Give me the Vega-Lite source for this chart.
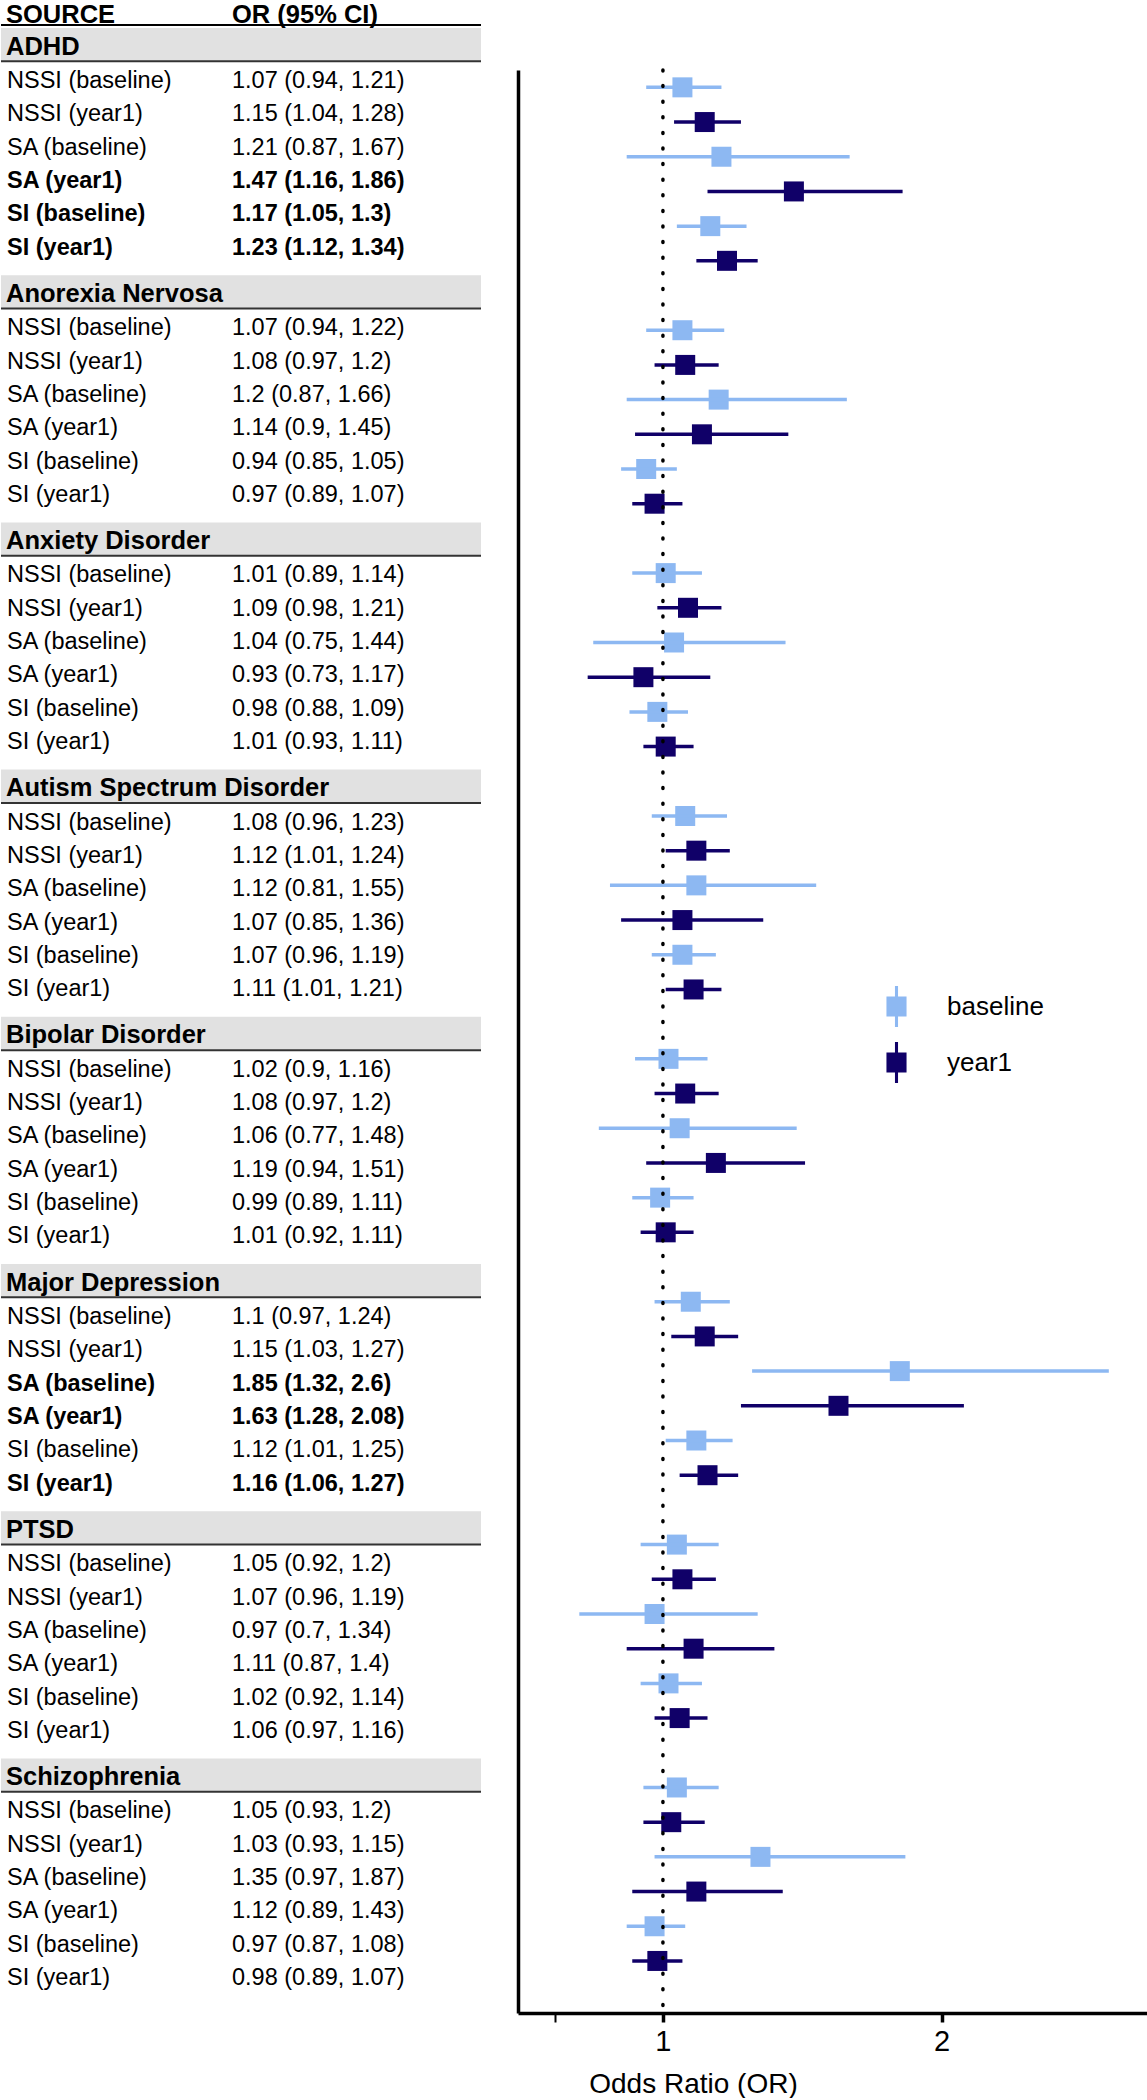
{
  "$schema": "https://vega.github.io/schema/vega-lite/v6.json",
  "padding": 0,
  "autosize": {"type": "pad"},
  "background": "white",
  "config": {"font": "Liberation Sans", "view": {"stroke": null}, "text": {"color": "black"}},
  "datasets": {
    "rows": [
      {"group": "ADHD", "slot": "NSSI (baseline)", "ci": "1.07 (0.94, 1.21)", "bold": false, "or": 1.07, "lo": 0.94, "hi": 1.21, "wave": "baseline", "key": "ADHD|NSSI (baseline)"},
      {"group": "ADHD", "slot": "NSSI (year1)", "ci": "1.15 (1.04, 1.28)", "bold": false, "or": 1.15, "lo": 1.04, "hi": 1.28, "wave": "year1", "key": "ADHD|NSSI (year1)"},
      {"group": "ADHD", "slot": "SA (baseline)", "ci": "1.21 (0.87, 1.67)", "bold": false, "or": 1.21, "lo": 0.87, "hi": 1.67, "wave": "baseline", "key": "ADHD|SA (baseline)"},
      {"group": "ADHD", "slot": "SA (year1)", "ci": "1.47 (1.16, 1.86)", "bold": true, "or": 1.47, "lo": 1.16, "hi": 1.86, "wave": "year1", "key": "ADHD|SA (year1)"},
      {"group": "ADHD", "slot": "SI (baseline)", "ci": "1.17 (1.05, 1.3)", "bold": true, "or": 1.17, "lo": 1.05, "hi": 1.3, "wave": "baseline", "key": "ADHD|SI (baseline)"},
      {"group": "ADHD", "slot": "SI (year1)", "ci": "1.23 (1.12, 1.34)", "bold": true, "or": 1.23, "lo": 1.12, "hi": 1.34, "wave": "year1", "key": "ADHD|SI (year1)"},

      {"group": "Anorexia Nervosa", "slot": "NSSI (baseline)", "ci": "1.07 (0.94, 1.22)", "bold": false, "or": 1.07, "lo": 0.94, "hi": 1.22, "wave": "baseline", "key": "AN|NSSI (baseline)"},
      {"group": "Anorexia Nervosa", "slot": "NSSI (year1)", "ci": "1.08 (0.97, 1.2)", "bold": false, "or": 1.08, "lo": 0.97, "hi": 1.2, "wave": "year1", "key": "AN|NSSI (year1)"},
      {"group": "Anorexia Nervosa", "slot": "SA (baseline)", "ci": "1.2 (0.87, 1.66)", "bold": false, "or": 1.2, "lo": 0.87, "hi": 1.66, "wave": "baseline", "key": "AN|SA (baseline)"},
      {"group": "Anorexia Nervosa", "slot": "SA (year1)", "ci": "1.14 (0.9, 1.45)", "bold": false, "or": 1.14, "lo": 0.9, "hi": 1.45, "wave": "year1", "key": "AN|SA (year1)"},
      {"group": "Anorexia Nervosa", "slot": "SI (baseline)", "ci": "0.94 (0.85, 1.05)", "bold": false, "or": 0.94, "lo": 0.85, "hi": 1.05, "wave": "baseline", "key": "AN|SI (baseline)"},
      {"group": "Anorexia Nervosa", "slot": "SI (year1)", "ci": "0.97 (0.89, 1.07)", "bold": false, "or": 0.97, "lo": 0.89, "hi": 1.07, "wave": "year1", "key": "AN|SI (year1)"},

      {"group": "Anxiety Disorder", "slot": "NSSI (baseline)", "ci": "1.01 (0.89, 1.14)", "bold": false, "or": 1.01, "lo": 0.89, "hi": 1.14, "wave": "baseline", "key": "AX|NSSI (baseline)"},
      {"group": "Anxiety Disorder", "slot": "NSSI (year1)", "ci": "1.09 (0.98, 1.21)", "bold": false, "or": 1.09, "lo": 0.98, "hi": 1.21, "wave": "year1", "key": "AX|NSSI (year1)"},
      {"group": "Anxiety Disorder", "slot": "SA (baseline)", "ci": "1.04 (0.75, 1.44)", "bold": false, "or": 1.04, "lo": 0.75, "hi": 1.44, "wave": "baseline", "key": "AX|SA (baseline)"},
      {"group": "Anxiety Disorder", "slot": "SA (year1)", "ci": "0.93 (0.73, 1.17)", "bold": false, "or": 0.93, "lo": 0.73, "hi": 1.17, "wave": "year1", "key": "AX|SA (year1)"},
      {"group": "Anxiety Disorder", "slot": "SI (baseline)", "ci": "0.98 (0.88, 1.09)", "bold": false, "or": 0.98, "lo": 0.88, "hi": 1.09, "wave": "baseline", "key": "AX|SI (baseline)"},
      {"group": "Anxiety Disorder", "slot": "SI (year1)", "ci": "1.01 (0.93, 1.11)", "bold": false, "or": 1.01, "lo": 0.93, "hi": 1.11, "wave": "year1", "key": "AX|SI (year1)"},

      {"group": "Autism Spectrum Disorder", "slot": "NSSI (baseline)", "ci": "1.08 (0.96, 1.23)", "bold": false, "or": 1.08, "lo": 0.96, "hi": 1.23, "wave": "baseline", "key": "AU|NSSI (baseline)"},
      {"group": "Autism Spectrum Disorder", "slot": "NSSI (year1)", "ci": "1.12 (1.01, 1.24)", "bold": false, "or": 1.12, "lo": 1.01, "hi": 1.24, "wave": "year1", "key": "AU|NSSI (year1)"},
      {"group": "Autism Spectrum Disorder", "slot": "SA (baseline)", "ci": "1.12 (0.81, 1.55)", "bold": false, "or": 1.12, "lo": 0.81, "hi": 1.55, "wave": "baseline", "key": "AU|SA (baseline)"},
      {"group": "Autism Spectrum Disorder", "slot": "SA (year1)", "ci": "1.07 (0.85, 1.36)", "bold": false, "or": 1.07, "lo": 0.85, "hi": 1.36, "wave": "year1", "key": "AU|SA (year1)"},
      {"group": "Autism Spectrum Disorder", "slot": "SI (baseline)", "ci": "1.07 (0.96, 1.19)", "bold": false, "or": 1.07, "lo": 0.96, "hi": 1.19, "wave": "baseline", "key": "AU|SI (baseline)"},
      {"group": "Autism Spectrum Disorder", "slot": "SI (year1)", "ci": "1.11 (1.01, 1.21)", "bold": false, "or": 1.11, "lo": 1.01, "hi": 1.21, "wave": "year1", "key": "AU|SI (year1)"},

      {"group": "Bipolar Disorder", "slot": "NSSI (baseline)", "ci": "1.02 (0.9, 1.16)", "bold": false, "or": 1.02, "lo": 0.9, "hi": 1.16, "wave": "baseline", "key": "BP|NSSI (baseline)"},
      {"group": "Bipolar Disorder", "slot": "NSSI (year1)", "ci": "1.08 (0.97, 1.2)", "bold": false, "or": 1.08, "lo": 0.97, "hi": 1.2, "wave": "year1", "key": "BP|NSSI (year1)"},
      {"group": "Bipolar Disorder", "slot": "SA (baseline)", "ci": "1.06 (0.77, 1.48)", "bold": false, "or": 1.06, "lo": 0.77, "hi": 1.48, "wave": "baseline", "key": "BP|SA (baseline)"},
      {"group": "Bipolar Disorder", "slot": "SA (year1)", "ci": "1.19 (0.94, 1.51)", "bold": false, "or": 1.19, "lo": 0.94, "hi": 1.51, "wave": "year1", "key": "BP|SA (year1)"},
      {"group": "Bipolar Disorder", "slot": "SI (baseline)", "ci": "0.99 (0.89, 1.11)", "bold": false, "or": 0.99, "lo": 0.89, "hi": 1.11, "wave": "baseline", "key": "BP|SI (baseline)"},
      {"group": "Bipolar Disorder", "slot": "SI (year1)", "ci": "1.01 (0.92, 1.11)", "bold": false, "or": 1.01, "lo": 0.92, "hi": 1.11, "wave": "year1", "key": "BP|SI (year1)"},

      {"group": "Major Depression", "slot": "NSSI (baseline)", "ci": "1.1 (0.97, 1.24)", "bold": false, "or": 1.1, "lo": 0.97, "hi": 1.24, "wave": "baseline", "key": "MD|NSSI (baseline)"},
      {"group": "Major Depression", "slot": "NSSI (year1)", "ci": "1.15 (1.03, 1.27)", "bold": false, "or": 1.15, "lo": 1.03, "hi": 1.27, "wave": "year1", "key": "MD|NSSI (year1)"},
      {"group": "Major Depression", "slot": "SA (baseline)", "ci": "1.85 (1.32, 2.6)", "bold": true, "or": 1.85, "lo": 1.32, "hi": 2.6, "wave": "baseline", "key": "MD|SA (baseline)"},
      {"group": "Major Depression", "slot": "SA (year1)", "ci": "1.63 (1.28, 2.08)", "bold": true, "or": 1.63, "lo": 1.28, "hi": 2.08, "wave": "year1", "key": "MD|SA (year1)"},
      {"group": "Major Depression", "slot": "SI (baseline)", "ci": "1.12 (1.01, 1.25)", "bold": false, "or": 1.12, "lo": 1.01, "hi": 1.25, "wave": "baseline", "key": "MD|SI (baseline)"},
      {"group": "Major Depression", "slot": "SI (year1)", "ci": "1.16 (1.06, 1.27)", "bold": true, "or": 1.16, "lo": 1.06, "hi": 1.27, "wave": "year1", "key": "MD|SI (year1)"},

      {"group": "PTSD", "slot": "NSSI (baseline)", "ci": "1.05 (0.92, 1.2)", "bold": false, "or": 1.05, "lo": 0.92, "hi": 1.2, "wave": "baseline", "key": "PT|NSSI (baseline)"},
      {"group": "PTSD", "slot": "NSSI (year1)", "ci": "1.07 (0.96, 1.19)", "bold": false, "or": 1.07, "lo": 0.96, "hi": 1.19, "wave": "year1", "key": "PT|NSSI (year1)"},
      {"group": "PTSD", "slot": "SA (baseline)", "ci": "0.97 (0.7, 1.34)", "bold": false, "or": 0.97, "lo": 0.7, "hi": 1.34, "wave": "baseline", "key": "PT|SA (baseline)"},
      {"group": "PTSD", "slot": "SA (year1)", "ci": "1.11 (0.87, 1.4)", "bold": false, "or": 1.11, "lo": 0.87, "hi": 1.4, "wave": "year1", "key": "PT|SA (year1)"},
      {"group": "PTSD", "slot": "SI (baseline)", "ci": "1.02 (0.92, 1.14)", "bold": false, "or": 1.02, "lo": 0.92, "hi": 1.14, "wave": "baseline", "key": "PT|SI (baseline)"},
      {"group": "PTSD", "slot": "SI (year1)", "ci": "1.06 (0.97, 1.16)", "bold": false, "or": 1.06, "lo": 0.97, "hi": 1.16, "wave": "year1", "key": "PT|SI (year1)"},

      {"group": "Schizophrenia", "slot": "NSSI (baseline)", "ci": "1.05 (0.93, 1.2)", "bold": false, "or": 1.05, "lo": 0.93, "hi": 1.2, "wave": "baseline", "key": "SZ|NSSI (baseline)"},
      {"group": "Schizophrenia", "slot": "NSSI (year1)", "ci": "1.03 (0.93, 1.15)", "bold": false, "or": 1.03, "lo": 0.93, "hi": 1.15, "wave": "year1", "key": "SZ|NSSI (year1)"},
      {"group": "Schizophrenia", "slot": "SA (baseline)", "ci": "1.35 (0.97, 1.87)", "bold": false, "or": 1.35, "lo": 0.97, "hi": 1.87, "wave": "baseline", "key": "SZ|SA (baseline)"},
      {"group": "Schizophrenia", "slot": "SA (year1)", "ci": "1.12 (0.89, 1.43)", "bold": false, "or": 1.12, "lo": 0.89, "hi": 1.43, "wave": "year1", "key": "SZ|SA (year1)"},
      {"group": "Schizophrenia", "slot": "SI (baseline)", "ci": "0.97 (0.87, 1.08)", "bold": false, "or": 0.97, "lo": 0.87, "hi": 1.08, "wave": "baseline", "key": "SZ|SI (baseline)"},
      {"group": "Schizophrenia", "slot": "SI (year1)", "ci": "0.98 (0.89, 1.07)", "bold": false, "or": 0.98, "lo": 0.89, "hi": 1.07, "wave": "year1", "key": "SZ|SI (year1)"}
    ]
  },
  "spacing": 36,
  "hconcat": [
    {
      "spacing": 0,
      "vconcat": [
        {
          "width": 480,
          "height": 25,
          "data": {"values": [{"col": "src", "t": "SOURCE"}, {"col": "or", "t": "OR (95% CI)"}]},
          "layer": [
            {
              "transform": [{"filter": "datum.col == 'src'"}],
              "mark": {"type": "text", "align": "left", "baseline": "middle", "fontSize": 25.5, "fontWeight": "bold", "dx": 5, "dy": 2},
              "encoding": {
                "x": {"field": "col", "type": "nominal", "bandPosition": 0, "scale": {"type": "band", "domain": ["src", "or"], "paddingInner": 0, "paddingOuter": 0}, "axis": null},
                "y": {"datum": "h", "type": "nominal", "scale": {"type": "band", "domain": ["h"], "paddingInner": 0, "paddingOuter": 0}, "axis": null},
                "text": {"field": "t"}
              }
            },
            {
              "transform": [{"filter": "datum.col == 'or'"}],
              "mark": {"type": "text", "align": "left", "baseline": "middle", "fontSize": 25.5, "fontWeight": "bold", "dx": -9, "dy": 2},
              "encoding": {
                "x": {"field": "col", "type": "nominal", "bandPosition": 0},
                "y": {"datum": "h", "type": "nominal"},
                "text": {"field": "t"}
              }
            },
            {
              "transform": [{"filter": "datum.col == 'src'"}],
              "mark": {"type": "rule", "color": "black", "strokeWidth": 2},
              "encoding": {"y": {"datum": "h", "type": "nominal", "bandPosition": 1}}
            }
          ]
        },
        {
          "data": {"name": "rows"},
          "facet": {"row": {"field": "group", "type": "nominal", "header": null}},
          "spacing": {"row": 13.2},
          "spec": {
            "width": 480,
            "height": 233.3,
            "layer": [
              {
                "transform": [{"aggregate": [{"op": "count", "as": "n"}], "groupby": ["group"]}],
                "mark": {"type": "rect", "color": "#e1e1e1"},
                "encoding": {
                  "y": {"datum": "header", "type": "nominal", "scale": {"type": "band", "domain": ["header", "NSSI (baseline)", "NSSI (year1)", "SA (baseline)", "SA (year1)", "SI (baseline)", "SI (year1)"], "paddingInner": 0, "paddingOuter": 0}, "axis": null}
                }
              },
              {
                "transform": [{"aggregate": [{"op": "count", "as": "n"}], "groupby": ["group"]}],
                "mark": {"type": "rule", "color": "#333333", "strokeWidth": 2},
                "encoding": {"y": {"datum": "header", "type": "nominal", "bandPosition": 1}}
              },
              {
                "transform": [{"aggregate": [{"op": "count", "as": "n"}], "groupby": ["group"]}],
                "mark": {"type": "text", "align": "left", "baseline": "middle", "fontSize": 25.5, "fontWeight": "bold", "dx": 5, "dy": 2},
                "encoding": {
                  "x": {"datum": "src", "type": "nominal", "bandPosition": 0, "scale": {"type": "band", "domain": ["src", "or"], "paddingInner": 0, "paddingOuter": 0}, "axis": null},
                  "y": {"datum": "header", "type": "nominal"},
                  "text": {"field": "group"}
                }
              },
              {
                "transform": [{"filter": "!datum.bold"}],
                "mark": {"type": "text", "align": "left", "baseline": "middle", "fontSize": 23.5, "dx": 6, "dy": 3},
                "encoding": {
                  "x": {"datum": "src", "type": "nominal", "bandPosition": 0},
                  "y": {"field": "slot", "type": "nominal"},
                  "text": {"field": "slot"}
                }
              },
              {
                "transform": [{"filter": "datum.bold"}],
                "mark": {"type": "text", "align": "left", "baseline": "middle", "fontSize": 23.5, "fontWeight": "bold", "dx": 6, "dy": 3},
                "encoding": {
                  "x": {"datum": "src", "type": "nominal", "bandPosition": 0},
                  "y": {"field": "slot", "type": "nominal"},
                  "text": {"field": "slot"}
                }
              },
              {
                "transform": [{"filter": "!datum.bold"}],
                "mark": {"type": "text", "align": "left", "baseline": "middle", "fontSize": 23.5, "dx": -9, "dy": 3},
                "encoding": {
                  "x": {"datum": "or", "type": "nominal", "bandPosition": 0},
                  "y": {"field": "slot", "type": "nominal"},
                  "text": {"field": "ci"}
                }
              },
              {
                "transform": [{"filter": "datum.bold"}],
                "mark": {"type": "text", "align": "left", "baseline": "middle", "fontSize": 23.5, "fontWeight": "bold", "dx": -9, "dy": 3},
                "encoding": {
                  "x": {"datum": "or", "type": "nominal", "bandPosition": 0},
                  "y": {"field": "slot", "type": "nominal"},
                  "text": {"field": "ci"}
                }
              }
            ]
          }
        }
      ]
    },
    {
      "spacing": 0,
      "vconcat": [
        {
          "width": 629,
          "height": 68,
          "data": {"values": []},
          "mark": "point"
        },
        {
          "width": 629,
          "height": 1943,
          "data": {"name": "rows"},
          "layer": [
            {
              "mark": {"type": "point", "shape": "square", "filled": true, "size": 400, "opacity": 1},
              "encoding": {
                "x": {
                  "field": "or", "type": "quantitative",
                  "scale": {"domain": [0.48, 2.737], "nice": false, "zero": false},
                  "axis": {
                    "values": [0.613, 1, 2],
                    "format": "d",
                    "title": "Odds Ratio (OR)",
                    "grid": false,
                    "domainColor": "black", "domainWidth": 3.5,
                    "tickColor": "black", "tickWidth": {"condition": {"test": "datum.value < 0.9", "value": 2}, "value": 3.5}, "tickSize": 9,
                    "labelExpr": "datum.value < 0.9 ? '' : datum.label",
                    "labelFontSize": 29, "labelColor": "black", "labelPadding": 5, "labelFont": "Liberation Sans",
                    "titleFontSize": 28, "titleFontWeight": "normal", "titleColor": "black", "titleFont": "Liberation Sans",
                    "titleX": 175, "titleY": 71, "titleAlign": "center", "titleBaseline": "middle"
                  }
                },
                "y": {
                  "field": "key", "type": "nominal",
                  "scale": {"type": "point", "padding": 0.5, "domain": [
                    "ADHD|NSSI (baseline)", "ADHD|NSSI (year1)", "ADHD|SA (baseline)", "ADHD|SA (year1)", "ADHD|SI (baseline)", "ADHD|SI (year1)", "gap1",
                    "AN|NSSI (baseline)", "AN|NSSI (year1)", "AN|SA (baseline)", "AN|SA (year1)", "AN|SI (baseline)", "AN|SI (year1)", "gap2",
                    "AX|NSSI (baseline)", "AX|NSSI (year1)", "AX|SA (baseline)", "AX|SA (year1)", "AX|SI (baseline)", "AX|SI (year1)", "gap3",
                    "AU|NSSI (baseline)", "AU|NSSI (year1)", "AU|SA (baseline)", "AU|SA (year1)", "AU|SI (baseline)", "AU|SI (year1)", "gap4",
                    "BP|NSSI (baseline)", "BP|NSSI (year1)", "BP|SA (baseline)", "BP|SA (year1)", "BP|SI (baseline)", "BP|SI (year1)", "gap5",
                    "MD|NSSI (baseline)", "MD|NSSI (year1)", "MD|SA (baseline)", "MD|SA (year1)", "MD|SI (baseline)", "MD|SI (year1)", "gap6",
                    "PT|NSSI (baseline)", "PT|NSSI (year1)", "PT|SA (baseline)", "PT|SA (year1)", "PT|SI (baseline)", "PT|SI (year1)", "gap7",
                    "SZ|NSSI (baseline)", "SZ|NSSI (year1)", "SZ|SA (baseline)", "SZ|SA (year1)", "SZ|SI (baseline)", "SZ|SI (year1)", "gap8"
                  ]},
                  "axis": {"domain": true, "domainColor": "black", "domainWidth": 3.5, "ticks": false, "labels": false, "title": null, "grid": false, "minExtent": 0}
                },
                "color": {
                  "field": "wave", "type": "nominal",
                  "scale": {"domain": ["baseline", "year1"], "range": ["#8db8f2", "#100068"]},
                  "legend": {
                    "title": null, "orient": "none", "legendX": 875, "legendY": 986,
                    "symbolType": "M-0.49,-0.49H0.49V0.49H-0.49Z M-0.075,-1H0.075V1H-0.075Z",
                    "symbolSize": 1681, "symbolStrokeWidth": 0, "symbolOpacity": 1,
                    "labelFontSize": 26, "labelColor": "black", "labelFont": "Liberation Sans", "labelOffset": 30,
                    "rowPadding": 15, "padding": 0
                  }
                }
              }
            },
            {
              "mark": {"type": "rule", "strokeWidth": 3.5},
              "encoding": {
                "x": {"field": "lo", "type": "quantitative"},
                "x2": {"field": "hi"},
                "y": {"field": "key", "type": "nominal"},
                "color": {"field": "wave", "type": "nominal"}
              }
            },
            {
              "data": {"values": [{"v": 1}]},
              "mark": {"type": "rule", "color": "black", "strokeWidth": 3.5, "strokeDash": [1, 14.6], "strokeCap": "round"},
              "encoding": {"x": {"field": "v", "type": "quantitative"}}
            }
          ]
        }
      ]
    }
  ]
}
